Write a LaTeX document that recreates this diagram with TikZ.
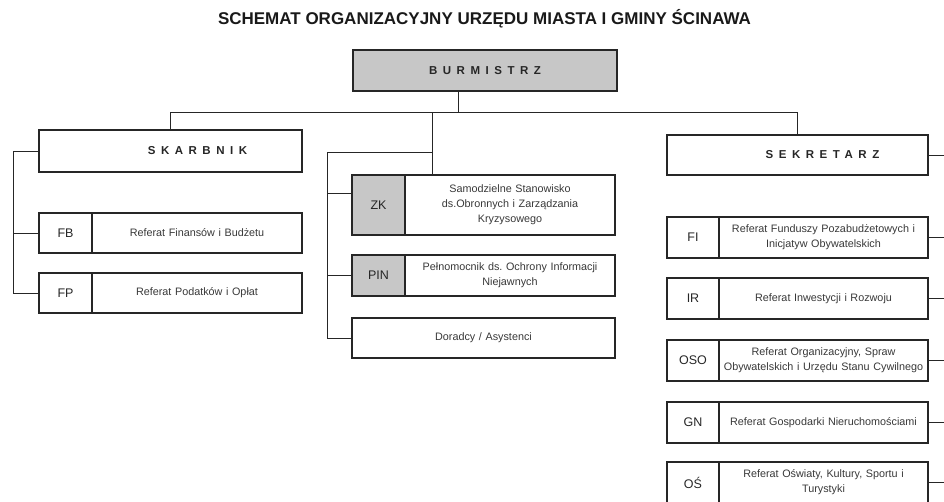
\documentclass[tikz,border=0pt]{standalone}
\usepackage{fontspec}
\setmainfont{Liberation Sans}
\frenchspacing
\tikzset{
 bx/.style={draw=black!85, line width=1.1pt, inner sep=0pt, outer sep=0pt, anchor=north west},
 code/.style={bx, minimum width=53pt, font=\fontsize{12.5}{14}\selectfont, text=black!85},
 codeg/.style={code, fill=black!22},
 desc/.style={bx, minimum width=210pt, align=center, text width=206pt, font=\fontsize{10.8}{15}\selectfont, text=black!78},
 head/.style={bx, font=\bfseries\fontsize{11.5}{13}\selectfont\addfontfeature{LetterSpace=48}, text=black!85},
 conn/.style={line width=0.9pt, draw=black!85},
}
\begin{document}
\begin{tikzpicture}[x=1pt,y=-1pt]
\useasboundingbox (0,0) rectangle (944,501);
\clip (0,0) rectangle (944,501);
\node[font=\bfseries\fontsize{17}{20}\selectfont, text=black!90] (title) at (484.5,19) {SCHEMAT ORGANIZACYJNY URZĘDU MIASTA I GMINY ŚCINAWA};

\node[head, fill=black!22, minimum width=264pt, minimum height=41pt] (burm) at (353,50) {BURMISTRZ};

\node[head, minimum width=263pt, minimum height=42pt] (skar) at (39,130) {\hspace*{54pt}SKARBNIK};
\node[head, minimum width=261pt, minimum height=40pt] (sek) at (667,135) {\hspace*{50pt}SEKRETARZ};

% left column
\node[code, minimum height=40pt] (fbL) at (39,213) {FB};
\node[desc, minimum width=210pt, minimum height=40pt] (fbC) at (92,213) {Referat Finansów i Budżetu};
\node[code, minimum height=40pt] (fpL) at (39,273) {FP};
\node[desc, minimum width=210pt, minimum height=40pt] (fpC) at (92,273) {Referat Podatków i Opłat};

% middle column
\node[codeg, minimum height=60pt] (zkL) at (352,175) {ZK};
\node[desc, minimum height=60pt] (zkC) at (405,175) {Samodzielne Stanowisko\\ds.Obronnych i Zarządzania\\Kryzysowego};
\node[codeg, minimum height=41pt] (pinL) at (352,255) {PIN};
\node[desc, minimum height=41pt] (pinC) at (405,255) {Pełnomocnik ds. Ochrony Informacji\\Niejawnych};
\node[desc, minimum width=263pt, text width=250pt, minimum height=40pt] (dor) at (352,318) {Doradcy / Asystenci};

% right column
\node[code, minimum width=52pt, minimum height=41pt] (fiL) at (667,217) {FI};
\node[desc, minimum width=209pt, minimum height=41pt] (fiC) at (719,217) {Referat Funduszy Pozabudżetowych i\\Inicjatyw Obywatelskich};
\node[code, minimum width=52pt, minimum height=41pt] (irL) at (667,278) {IR};
\node[desc, minimum width=209pt, minimum height=41pt] (irC) at (719,278) {Referat Inwestycji i Rozwoju};
\node[code, minimum width=52pt, minimum height=41pt] (osoL) at (667,340) {OSO};
\node[desc, minimum width=209pt, minimum height=41pt] (osoC) at (719,340) {Referat Organizacyjny, Spraw\\Obywatelskich i Urzędu Stanu Cywilnego};
\node[code, minimum width=52pt, minimum height=41pt] (gnL) at (667,402) {GN};
\node[desc, minimum width=209pt, minimum height=41pt] (gnC) at (719,402) {Referat Gospodarki Nieruchomościami};
\node[code, minimum width=52pt, minimum height=41pt] (osL) at (667,462) {OŚ};
\node[desc, minimum width=209pt, minimum height=41pt] (osC) at (719,462) {Referat Oświaty, Kultury, Sportu i\\Turystyki};

% connectors
\coordinate (j0) at (458,112);
\coordinate (jL) at (170,112);
\coordinate (jM) at (432,112);
\coordinate (jR) at (797,112);
\draw[conn] (burm.south -| j0) -- (j0);
\draw[conn] (jL) -- (jR);
\draw[conn] (jL) -- (jL |- skar.north);
\draw[conn] (jM) -- (jM |- zkC.north);
\draw[conn] (jR) -- (jR |- sek.north);

\coordinate (lb) at (13,0);
\draw[conn] (skar.west) -- (skar.west -| lb) |- (fpL.west);
\draw[conn] (fbL.west) -- (fbL.west -| lb);

\coordinate (mb) at (327,152);
\draw[conn] (jM |- mb) -- (mb) |- (dor.west);
\coordinate (zkj) at (327,193);
\draw[conn] (zkj) -- (zkj -| zkL.west);
\draw[conn] (pinL.west -| mb) -- (pinL.west);

\coordinate (rb) at (944,0);
\foreach \n in {sek, fiC, irC, osoC, gnC, osC}
  \draw[conn] (\n.east) -- (\n.east -| rb);
\end{tikzpicture}
\end{document}
